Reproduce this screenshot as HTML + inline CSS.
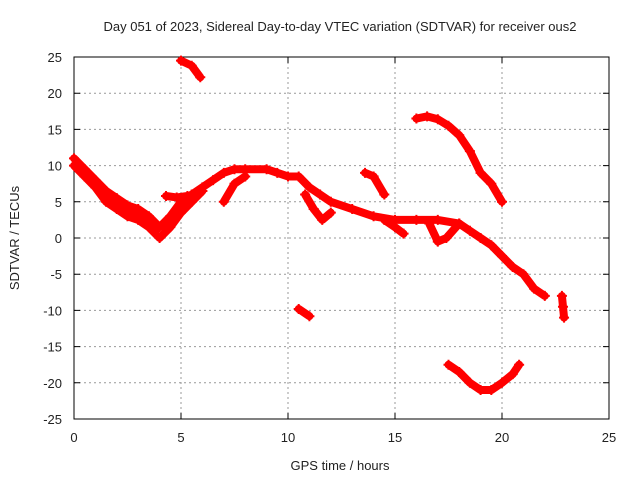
<!DOCTYPE html>
<html><head><meta charset="utf-8"><style>
body{margin:0;background:#fff}
svg text{font-family:"Liberation Sans",sans-serif;font-size:13px;fill:#222}
</style></head><body>
<svg width="640" height="480">
<g id="grid"></g>
<rect x="74" y="57" width="535" height="362" fill="none" stroke="#000" stroke-width="1"/>
<g id="axes"></g>
<g id="series"></g>
<text x="340" y="31" text-anchor="middle">Day 051 of 2023, Sidereal Day-to-day VTEC variation (SDTVAR) for receiver ous2</text>
<text x="340" y="470" text-anchor="middle">GPS time / hours</text>
<text transform="translate(19,238) rotate(-90)" text-anchor="middle">SDTVAR / TECUs</text>
</svg>
<script>
const xTicks=[0,5,10,15,20,25];
const yTicks=[25,20,15,10,5,0,-5,-10,-15,-20,-25];
const trackA_t=[0,0.5,1,1.5,2,2.5,3,3.5,4,4.5,5,5.5,6,6.5,7,7.5,8,9,9.5,10,10.5,11,11.5,12,13,14,15,16,17,18,18.5,19,19.5,20,20.5,21,21.5,22];
const trackA_v=[11,9.5,8,6.5,5.5,4.5,4,3,1.5,3,5,6,7,8,9,9.5,9.5,9.5,9,8.5,8.5,7,6,5,4,3,2.5,2.5,2.5,2,1,0,-1,-2.5,-4,-5,-7,-8];
const trackB_t=[0,0.5,1,1.5,2,2.5,3,3.5,4,4.5,5,5.5,6];
const trackB_v=[10,8.5,7,5,4,3,2.5,1.5,0,1.5,3.5,5,6.5];
const trackC_t=[0.2,0.8,1.4,2,2.6,3.2,3.8];
const trackC_v=[10,8,6.5,5,4,3,1];
const trackD_t=[4.3,4.8,5.3];
const trackD_v=[5.8,5.6,5.8];
const trackE_t=[7,7.5,8];
const trackE_v=[5,7.5,8.5];
const trackF_t=[10.8,11.2,11.6,12];
const trackF_v=[6,4,2.5,3.5];
const trackG_t=[14.5,15,15.4];
const trackG_v=[2.5,1.5,0.6];
const trackH_t=[16.6,17,17.4,18];
const trackH_v=[2,-0.5,0,2];
const trackI_t=[5,5.5,5.9];
const trackI_v=[24.5,23.8,22.2];
const trackJ_t=[13.6,14,14.5];
const trackJ_v=[9,8.5,6];
const trackK_t=[16,16.5,17,17.5,18,18.5,19,19.5,20];
const trackK_v=[16.5,16.8,16.4,15.5,14.2,12,9,7.5,5];
const trackL_t=[10.5,11];
const trackL_v=[-9.8,-10.8];
const trackM_t=[17.5,18,18.5,19,19.5,20,20.5,20.8];
const trackM_v=[-17.5,-18.5,-20,-21,-21,-20,-18.8,-17.5];
const trackN_t=[22.8,22.85,22.9];
const trackN_v=[-8,-9.5,-11];
const tracks=[[trackA_t,trackA_v],[trackB_t,trackB_v],[trackC_t,trackC_v],[trackD_t,trackD_v],[trackE_t,trackE_v],[trackF_t,trackF_v],[trackG_t,trackG_v],[trackH_t,trackH_v],[trackI_t,trackI_v],[trackJ_t,trackJ_v],[trackK_t,trackK_v],[trackL_t,trackL_v],[trackM_t,trackM_v],[trackN_t,trackN_v]];
const X=t=>74+t*535/25, Y=v=>238-v*362/50;
const NS="http://www.w3.org/2000/svg";
function mk(tag,attrs,parent){const e=document.createElementNS(NS,tag);for(const k in attrs)e.setAttribute(k,attrs[k]);parent.appendChild(e);return e;}
const grid=document.getElementById('grid'),axes=document.getElementById('axes'),ser=document.getElementById('series');
xTicks.forEach(t=>{const x=X(t);
 if(t>0&&t<25){const g=mk('line',{x1:x,x2:x,y1:57,y2:419,stroke:'#999','stroke-dasharray':'2,3'},grid);
 
 }
 const tk=mk('path',{d:`M${x},419v-6M${x},57v6`,stroke:'#000'},axes);
 
 
 const l=mk('text',{x:x,y:442,'text-anchor':'middle'},axes);l.textContent=t;
 
 });
yTicks.forEach(v=>{const y=Y(v);
 if(v>-25&&v<25){const g=mk('line',{x1:74,x2:609,y1:y,y2:y,stroke:'#999','stroke-dasharray':'2,3'},grid);
 
 }
 const tk=mk('path',{d:`M74,${y}h6M609,${y}h-6`,stroke:'#000'},axes);
 
 
 const l=mk('text',{x:62,y:y+5,'text-anchor':'end'},axes);l.textContent=v;
 
 });
tracks.forEach(([ts,vs])=>{
 const pts=ts.map((t,i)=>X(t)+','+Y(vs[i])).join(' ');
 const pl=mk('polyline',{points:pts,fill:'none',stroke:'#f00','stroke-width':8,'stroke-linejoin':'round','stroke-linecap':'round'},ser);
 
 
 ts.forEach((t,i)=>{const x=X(t),y=Y(vs[i]);
  const p=mk('path',{d:`M${x-5},${y}h10M${x},${y-5}v10`,stroke:'#f00','stroke-width':2},ser);
  
  });
});
</script>
</body></html>
